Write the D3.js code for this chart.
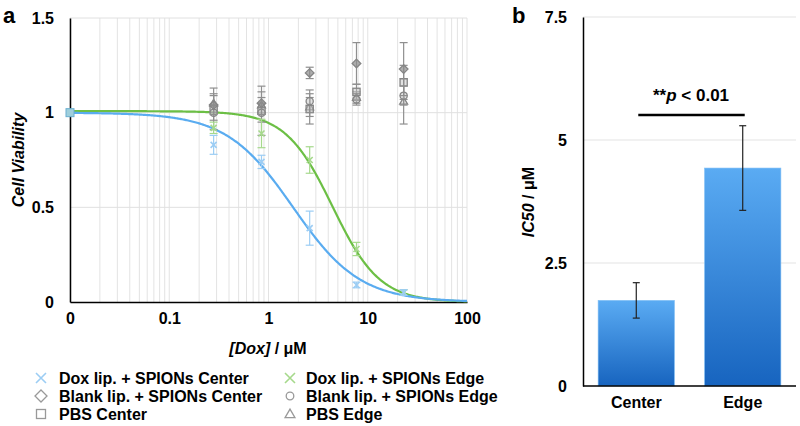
<!DOCTYPE html>
<html><head><meta charset="utf-8">
<script src="https://cdn.jsdelivr.net/npm/d3@7"></script>
<style>
html,body{margin:0;padding:0;background:#fff;}
svg{display:block;font-family:Arial,"Liberation Sans",sans-serif;font-weight:bold;}
</style></head>
<body><svg id="c" width="800" height="426"></svg>
<script>
// ---- data (panel a) ----
const concentrations = [0.28, 0.85, 2.6, 7.7, 23];   // µM
const controlConc = 0.01;                               // plotted at "0"
const controlValue = 1.0;
const doxCenter    = [0.83, 0.74, 0.39, 0.09, 0.05];
const doxCenterErr = [0.05, 0.035, 0.09, 0.015, 0.015];
const doxEdge      = [0.92, 0.89, 0.75, 0.28, 0.05];
const doxEdgeErr   = [0.03, 0.075, 0.07, 0.035, 0.015];
const blankCenter    = [1.04, 1.05, 1.21, 1.26, 1.23];
const blankCenterErr = [0.05, 0.06, 0.03, 0.11, 0.14];
const blankEdge      = [1.00, 1.00, 1.06, 1.07, 1.09];
const blankEdgeErr   = [0.04, 0.05, 0.06, 0.03, 0.05];
const pbsCenter      = [1.02, 1.01, 1.02, 1.11, 1.16];
const pbsCenterErr   = [0.11, 0.13, 0.08, 0.04, 0.09];
const pbsEdge        = [1.05, 1.04, 1.03, 1.08, 1.06];
const pbsEdgeErr     = [0.05, 0.04, 0.05, 0.03, 0.12];
// Hill fits: [top, bottom, EC50, hill]
const fitCenter = [1.0, 0.0, 1.77, 1.29];
const fitEdge   = [1.008, 0.0, 4.42, 1.83];
const xTickValues = [0.01, 0.1, 1, 10, 100];
const xTickLabels = ["0", "0.1", "1", "10", "100"];
const yTickValues = [0, 0.5, 1, 1.5];
const yTickLabels = ["0", "0.5", "1", "1.5"];
const legendLabels = ["Dox lip. + SPIONs Center","Dox lip. + SPIONs Edge","Blank lip. + SPIONs Center","Blank lip. + SPIONs Edge","PBS Center","PBS Edge"];
// ---- data (panel b) ----
const groups = ["Center", "Edge"];
const ic50 = [1.74, 4.43];
const ic50Err = [0.36, 0.86];
const bTickValues = [0, 2.5, 5, 7.5];
const bTickLabels = ["0", "2.5", "5", "7.5"];

const FS = 16;
const svg = d3.select("#c");
const blueLine = "#5aacf0", blueMark = "#9ccdf4";
const greenLine = "#6cbf45", greenMark = "#a6d98c";
const grayMark = "#858585";

// ===== Panel a =====
const x = d3.scaleLog().domain([0.01, 100]).range([70, 467]);
const y = d3.scaleLinear().domain([0, 1.5]).range([302, 18]);

const gridX = [];
for (let e = -2; e < 2; e++) for (let m = 1; m <= 9; m++) gridX.push(m * Math.pow(10, e));
gridX.push(100);
svg.append("g").selectAll("line").data(gridX).join("line")
  .attr("x1", d => x(d)).attr("x2", d => x(d)).attr("y1", y(1.5)).attr("y2", y(0))
  .attr("stroke", "#e3e3e3").attr("stroke-width", 1);
svg.append("g").selectAll("line").data(yTickValues.filter(v => v > 0)).join("line")
  .attr("x1", x(0.01)).attr("x2", x(100)).attr("y1", d => y(d)).attr("y2", d => y(d))
  .attr("stroke", "#e0e0e0").attr("stroke-width", 1);

function styleTicks(g) {
  g.selectAll("text").attr("font-size", FS).attr("font-weight", "bold").attr("fill", "#000")
    .attr("font-family", "Arial,'Liberation Sans',sans-serif");
}
const xAxis = d3.axisBottom(x).tickValues(xTickValues).tickSize(0).tickPadding(11)
  .tickFormat((d, i) => xTickLabels[i]);
const gx = svg.append("g").attr("transform", `translate(0,${y(0)})`).call(xAxis);
gx.select(".domain").attr("stroke", "#000").attr("stroke-width", 1.5);
styleTicks(gx);
const yAxis = d3.axisLeft(y).tickValues(yTickValues).tickSize(0).tickPadding(16)
  .tickFormat((d, i) => yTickLabels[i]);
const gy = svg.append("g").attr("transform", `translate(${x(0.01)},0)`).call(yAxis);
gy.select(".domain").attr("stroke", "#000").attr("stroke-width", 1.5);
styleTicks(gy);

// fitted curves
function hill(p, c) { return p[1] + (p[0] - p[1]) / (1 + Math.pow(c / p[2], p[3])); }
const curveX = d3.range(0, 401).map(i => Math.pow(10, -2 + i * 4 / 400));
[[fitEdge, greenLine], [fitCenter, blueLine]].forEach(([p, col]) => {
  svg.append("path").datum(curveX)
    .attr("d", d3.line().x(d => x(d)).y(d => y(hill(p, d))))
    .attr("fill", "none").attr("stroke", col).attr("stroke-width", 2.2);
});

function drawMarker(g, shape, cx, cy, col, r, fill) {
  if (shape === "x") {
    g.append("path").attr("d", `M${cx-r},${cy-r}L${cx+r},${cy+r}M${cx-r},${cy+r}L${cx+r},${cy-r}`)
      .attr("stroke", col).attr("stroke-width", 1.6).attr("fill", "none");
  } else if (shape === "diamond") {
    g.append("path").attr("d", `M${cx},${cy-r*1.2}L${cx+r*1.2},${cy}L${cx},${cy+r*1.2}L${cx-r*1.2},${cy}Z`)
      .attr("stroke", col).attr("stroke-width", 1.3).attr("fill", fill);
  } else if (shape === "square") {
    g.append("rect").attr("x", cx - r).attr("y", cy - r).attr("width", 2*r).attr("height", 2*r)
      .attr("stroke", col).attr("stroke-width", 1.3).attr("fill", fill);
  } else if (shape === "circle") {
    g.append("circle").attr("cx", cx).attr("cy", cy).attr("r", r)
      .attr("stroke", col).attr("stroke-width", 1.3).attr("fill", fill);
  } else if (shape === "triangle") {
    g.append("path").attr("d", `M${cx},${cy-r*1.1}L${cx+r*1.1},${cy+r*0.8}L${cx-r*1.1},${cy+r*0.8}Z`)
      .attr("stroke", col).attr("stroke-width", 1.3).attr("fill", fill);
  }
}
const series = [
  {vals: pbsEdge, err: pbsEdgeErr, shape: "triangle", col: grayMark, ecol: "#8f8f8f", fill: "rgba(190,190,190,0.45)"},
  {vals: pbsCenter, err: pbsCenterErr, shape: "square", col: grayMark, ecol: "#8f8f8f", fill: "rgba(190,190,190,0.45)"},
  {vals: blankEdge, err: blankEdgeErr, shape: "circle", col: grayMark, ecol: "#8f8f8f", fill: "rgba(190,190,190,0.45)"},
  {vals: blankCenter, err: blankCenterErr, shape: "diamond", col: grayMark, ecol: "#8f8f8f", fill: "rgba(140,140,140,0.7)"},
  {vals: doxEdge, err: doxEdgeErr, shape: "x", col: greenMark, ecol: greenMark},
  {vals: doxCenter, err: doxCenterErr, shape: "x", col: blueMark, ecol: blueMark},
];
series.forEach(s => {
  const g = svg.append("g");
  s.vals.forEach((v, i) => {
    const cx = x(concentrations[i]);
    const y1 = y(v + s.err[i]), y2 = y(v - s.err[i]);
    g.append("line").attr("x1", cx).attr("x2", cx).attr("y1", y1).attr("y2", y2).attr("stroke", s.ecol).attr("stroke-width", 1.2);
    [y1, y2].forEach(yy => g.append("line").attr("x1", cx - 4).attr("x2", cx + 4).attr("y1", yy).attr("y2", yy).attr("stroke", s.ecol).attr("stroke-width", 1.2));
    drawMarker(g, s.shape, cx, y(v), s.col, s.shape === "x" ? 3 : 3.6, s.fill);
  });
});
svg.append("rect").attr("x", x(controlConc) - 4).attr("y", y(controlValue) - 4).attr("width", 8).attr("height", 8)
  .attr("fill", "#9fcfdc").attr("stroke", "#6aaed0").attr("stroke-width", 1);

svg.append("text").attr("x", 3).attr("y", 23).attr("font-size", 22).text("a");
svg.append("text").attr("transform", `translate(24,160) rotate(-90)`).attr("text-anchor", "middle")
  .attr("font-size", FS).attr("font-style", "italic").text("Cell Viability");
const xt = svg.append("text").attr("x", 268).attr("y", 354).attr("text-anchor", "middle").attr("font-size", FS);
xt.append("tspan").attr("font-style", "italic").text("[Dox]");
xt.append("tspan").text(" / μM");

// legend
const legendShapes = ["x", "x", "diamond", "circle", "square", "triangle"];
const legendCols = [blueMark, greenMark, "#999", "#999", "#999", "#999"];
legendLabels.forEach((lab, i) => {
  const col = i % 2, row = Math.floor(i / 2);
  const mx = col === 0 ? 41 : 290, ty = 378 + row * 18;
  const g = svg.append("g");
  const sh = legendShapes[i];
  if (sh === "x") drawMarker(g, "x", mx, ty, legendCols[i], 5);
  else {
    const r = sh === "circle" ? 3.8 : (sh === "diamond" ? 5 : 4.5);
    drawMarker(g, sh, mx, ty, legendCols[i], r, "none");
  }
  svg.append("text").attr("x", col === 0 ? 59 : 306).attr("y", ty + 6).attr("font-size", FS).text(lab);
});

// ===== Panel b =====
const xb = d3.scaleBand().domain(groups).range([583, 796]).paddingInner(0.283).paddingOuter(0.142);
const yb = d3.scaleLinear().domain([0, 7.5]).range([386, 17]);
svg.append("g").selectAll("line").data(bTickValues.filter(v => v > 0)).join("line")
  .attr("x1", 583).attr("x2", 796).attr("y1", d => yb(d)).attr("y2", d => yb(d))
  .attr("stroke", "#e3e3e3").attr("stroke-width", 1);

const defs = svg.append("defs");
const grad = defs.append("linearGradient").attr("id", "barGrad").attr("x1", 0).attr("y1", 0).attr("x2", 0).attr("y2", 1);
grad.append("stop").attr("offset", "0%").attr("stop-color", "#5aabf3");
grad.append("stop").attr("offset", "100%").attr("stop-color", "#1764bf");

svg.append("g").selectAll("rect").data(groups).join("rect")
  .attr("x", d => xb(d)).attr("width", xb.bandwidth())
  .attr("y", (d, i) => yb(ic50[i])).attr("height", (d, i) => yb(0) - yb(ic50[i]))
  .attr("fill", "url(#barGrad)").attr("stroke", "#7fbef5").attr("stroke-width", 0.6);

groups.forEach((gname, i) => {
  const cx = xb(gname) + xb.bandwidth() / 2;
  const y1 = yb(ic50[i] + ic50Err[i]), y2 = yb(ic50[i] - ic50Err[i]);
  svg.append("line").attr("x1", cx).attr("x2", cx).attr("y1", y1).attr("y2", y2).attr("stroke", "#222").attr("stroke-width", 1.2);
  [y1, y2].forEach(yy => svg.append("line").attr("x1", cx - 3.5).attr("x2", cx + 3.5).attr("y1", yy).attr("y2", yy).attr("stroke", "#222").attr("stroke-width", 1.2));
});

const xbAxis = d3.axisBottom(xb).tickSize(0).tickPadding(11);
const gxb = svg.append("g").attr("transform", `translate(0,${yb(0)})`).call(xbAxis);
gxb.select(".domain").attr("stroke", "#000").attr("stroke-width", 1.5).attr("d", "M583,0H796");
styleTicks(gxb);
const ybAxis = d3.axisLeft(yb).tickValues(bTickValues).tickSize(0).tickPadding(16)
  .tickFormat((d, i) => bTickLabels[i]);
const gyb = svg.append("g").attr("transform", "translate(583,0)").call(ybAxis);
gyb.select(".domain").attr("stroke", "#000").attr("stroke-width", 1.5);
styleTicks(gyb);

svg.append("text").attr("x", 512).attr("y", 23).attr("font-size", 22).text("b");
const yt = svg.append("text").attr("transform", `translate(534,202) rotate(-90)`).attr("text-anchor", "middle").attr("font-size", FS);
yt.append("tspan").attr("font-style", "italic").text("IC50");
yt.append("tspan").text(" / μM");

svg.append("line").attr("x1", xb("Center") + xb.bandwidth()/2 + 2).attr("x2", xb("Edge") + xb.bandwidth()/2 + 2)
  .attr("y1", 115).attr("y2", 115).attr("stroke", "#000").attr("stroke-width", 2.5);
const st = svg.append("text").attr("x", 691).attr("y", 101).attr("text-anchor", "middle").attr("font-size", 17);
st.append("tspan").text("**");
st.append("tspan").attr("font-style", "italic").text("p");
st.append("tspan").text(" < 0.01");
</script></body></html>
